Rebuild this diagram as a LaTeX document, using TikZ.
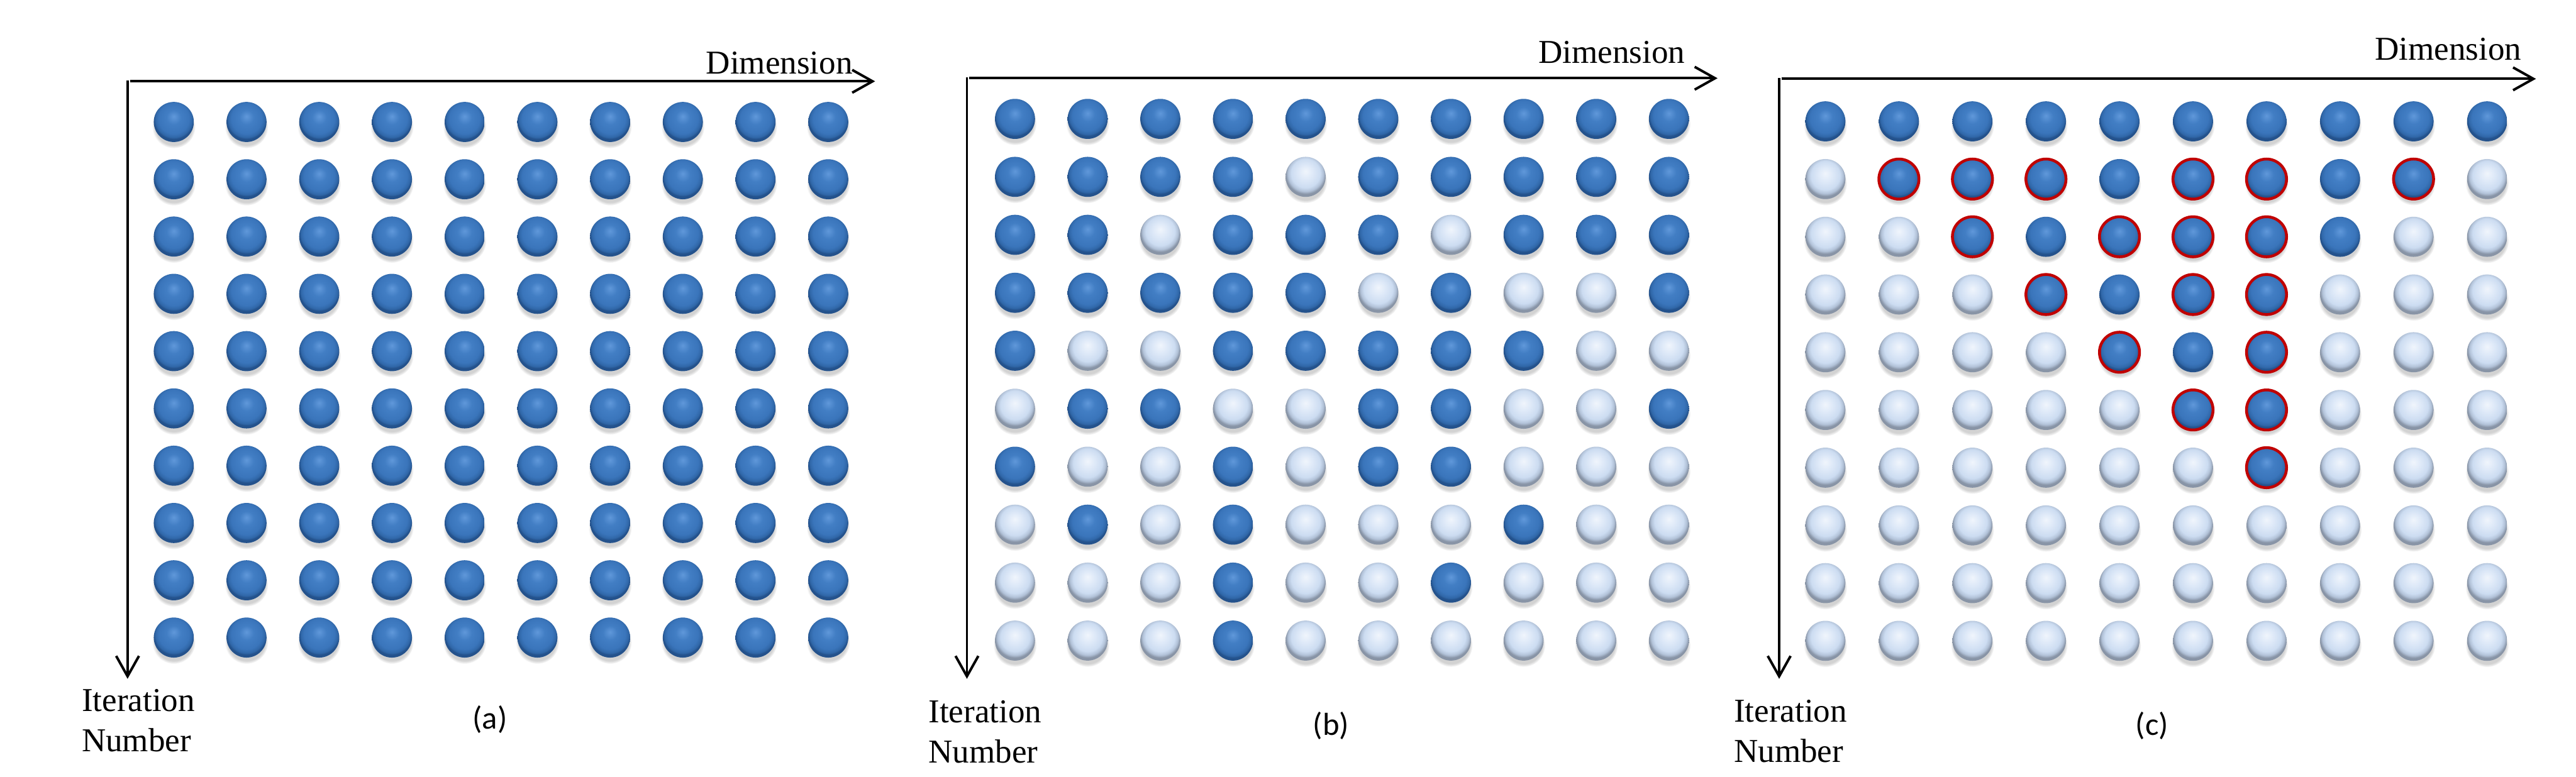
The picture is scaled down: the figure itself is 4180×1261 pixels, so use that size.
\documentclass[tikz,border=0pt]{standalone}
\usepackage{fontspec}
\setmainfont{Liberation Serif}
\newfontfamily\capfont{Carlito}
\usetikzlibrary{arrows.meta,shadows}
\definecolor{ringred}{HTML}{C00000}
\pgfdeclareradialshading{dball}{\pgfpoint{0bp}{7bp}}{%
  color(0bp)=(rgb,255:red,96;green,152;blue,218);
  color(9bp)=(rgb,255:red,66;green,126;blue,196);
  color(19bp)=(rgb,255:red,58;green,117;blue,187);
  color(23bp)=(rgb,255:red,48;green,103;blue,168);
  color(25bp)=(rgb,255:red,36;green,82;blue,140);
  color(50bp)=(rgb,255:red,36;green,82;blue,140)}
\pgfdeclareradialshading{lball}{\pgfpoint{0bp}{7bp}}{%
  color(0bp)=(rgb,255:red,240;green,245;blue,252);
  color(9bp)=(rgb,255:red,222;green,233;blue,248);
  color(18bp)=(rgb,255:red,204;green,220;blue,241);
  color(22bp)=(rgb,255:red,178;green,194;blue,216);
  color(25bp)=(rgb,255:red,136;green,148;blue,166);
  color(50bp)=(rgb,255:red,136;green,148;blue,166)}
\begin{document}
\begin{tikzpicture}[x=0.01cm,y=-0.01cm,
  axis/.style={line width=1.15pt, -{Straight Barb[length=0.33cm,width=0.37cm]}},
  plainaxis/.style={line width=1.15pt},
  axlab/.style={inner sep=0pt, font=\fontsize{15.4pt}{18pt}\selectfont},
  caplab/.style={inner sep=0pt, font=\capfont\fontsize{14.7pt}{17pt}\selectfont},
  ballbase/.style={circle, minimum size=0.65cm, inner sep=0pt, outer sep=0pt,
    circular drop shadow={shadow xshift=0pt, shadow yshift=-0.07cm, shadow scale=1.08, opacity=0.35}},
  ballD/.style={ballbase, shade, shading=dball},
  ballL/.style={ballbase, shade, shading=lball},
  ballR/.style={ballbase, shade, shading=dball, draw=ringred, line width=1.3pt}]
\fill[white] (0,0) rectangle (4180,1261);
\useasboundingbox (0,0) rectangle (4180,1261);

% ---------------- panel (a) ----------------
\coordinate (a-o) at (207,131);
\coordinate (a-h) at (211,132);
\coordinate (a-x) at (1420,132);
\coordinate (a-y) at (207,1102);
\draw[axis] (a-h) -- (a-x);
\draw[axis] (a-o) -- (a-y);
\foreach \j in {0,...,9} {
  \foreach \i in {0,...,9} {
    \node[ballD] (a-\j-\i) at ({282+118*\i},{198+93*\j}) {};
  }
}
\node[axlab, anchor=base west] (a-dim) at (1145,120) {Dimension};
\node[axlab, anchor=base west] (a-it) at (132,1155) {Iteration};
\node[axlab, anchor=base west] (a-num) at (132,1220) {Number};
\node[caplab] (a-cap) at (795,1168) {(a)};

% ---------------- panel (b) ----------------
\coordinate (b-o) at (1569,126);
\coordinate (b-h) at (1573,127);
\coordinate (b-x) at (2787,127);
\coordinate (b-y) at (1569,1102);
\draw[axis] (b-h) -- (b-x);
\draw[axis] (b-o) -- (b-y);
\foreach \row [count=\j from 0] in {
  {D,D,D,D,D,D,D,D,D,D},
  {D,D,D,D,L,D,D,D,D,D},
  {D,D,L,D,D,D,L,D,D,D},
  {D,D,D,D,D,L,D,L,L,D},
  {D,L,L,D,D,D,D,D,L,L},
  {L,D,D,L,L,D,D,L,L,D},
  {D,L,L,D,L,D,D,L,L,L},
  {L,D,L,D,L,L,L,D,L,L},
  {L,L,L,D,L,L,D,L,L,L},
  {L,L,L,D,L,L,L,L,L,L}} {
  \foreach \s [count=\i from 0] in \row {
    \node[ball\s] (b-\j-\i) at ({1647+117.9*\i},{193+94.1*\j}) {};
  }
}
\node[axlab, anchor=base east] (b-dim) at (2735,103) {Dimension};
\node[axlab, anchor=base west] (b-it) at (1506,1173) {Iteration};
\node[axlab, anchor=base west] (b-num) at (1506,1238) {Number};
\node[caplab] (b-cap) at (2160,1178) {(b)};

% ---------------- panel (c) ----------------
\coordinate (c-o) at (2887,127);
\coordinate (c-h) at (2891,128);
\coordinate (c-x) at (4115,128);
\coordinate (c-y) at (2887,1102);
\draw[axis] (c-h) -- (c-x);
\draw[axis] (c-o) -- (c-y);
\foreach \row [count=\j from 0] in {
  {D,D,D,D,D,D,D,D,D,D},
  {L,R,R,R,D,R,R,D,R,L},
  {L,L,R,D,R,R,R,D,L,L},
  {L,L,L,R,D,R,R,L,L,L},
  {L,L,L,L,R,D,R,L,L,L},
  {L,L,L,L,L,R,R,L,L,L},
  {L,L,L,L,L,L,R,L,L,L},
  {L,L,L,L,L,L,L,L,L,L},
  {L,L,L,L,L,L,L,L,L,L},
  {L,L,L,L,L,L,L,L,L,L}} {
  \foreach \s [count=\i from 0] in \row {
    \node[ball\s] (c-\j-\i) at ({2962+119.3*\i},{197+93.7*\j}) {};
  }
}
\node[axlab, anchor=base west] (c-dim) at (3853,97) {Dimension};
\node[axlab, anchor=base west] (c-it) at (2813,1172) {Iteration};
\node[axlab, anchor=base west] (c-num) at (2813,1237) {Number};
\node[caplab] (c-cap) at (3492,1178) {(c)};
\end{tikzpicture}
\end{document}
